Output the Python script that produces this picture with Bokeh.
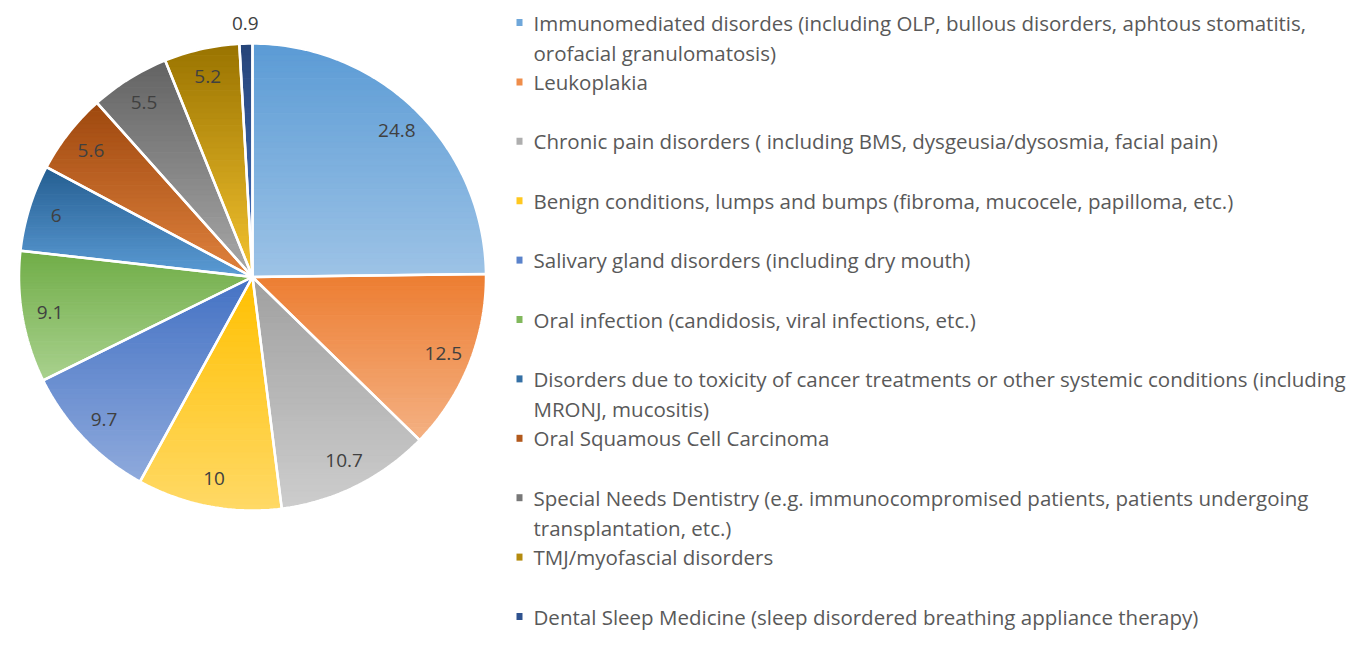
import textwrap
import numpy as np
from bokeh.plotting import figure
from bokeh.models import Range1d
from bokeh.core.properties import value
from bokeh.embed import file_html
from bokeh.resources import INLINE

# ---------------- data ----------------
categories = [
    "Immunomediated disordes (including OLP, bullous disorders, aphtous stomatitis, orofacial granulomatosis)",
    "Leukoplakia",
    "Chronic pain disorders ( including BMS, dysgeusia/dysosmia, facial pain)",
    "Benign conditions, lumps and bumps (fibroma, mucocele, papilloma, etc.)",
    "Salivary gland disorders (including dry mouth)",
    "Oral infection (candidosis, viral infections, etc.)",
    "Disorders due to toxicity of cancer treatments or other systemic conditions (including MRONJ, mucositis)",
    "Oral Squamous Cell Carcinoma",
    "Special Needs Dentistry (e.g. immunocompromised patients, patients undergoing transplantation, etc.)",
    "TMJ/myofascial disorders",
    "Dental Sleep Medicine (sleep disordered breathing appliance therapy)",
]
values = [24.8, 12.5, 10.7, 10, 9.7, 9.1, 6, 5.6, 5.5, 5.2, 0.9]

# ---------------- styles ----------------
top_colors = ["#5B9BD5", "#ED7D31", "#A0A0A0", "#FFC000", "#4472C4", "#70AD47",
              "#255E91", "#9E480E", "#636363", "#997300", "#264478"]
bottom_colors = ["#9DC3E6", "#F4B183", "#CDCDCD", "#FFD966", "#8FAADC", "#A9D18E",
                 "#5B9BD5", "#E0823E", "#A8A8A8", "#F4C330", "#4472C4"]

W, H = 1348, 632
CX, CY, R = 252.0, 276.5, 233.5


def hex2rgb(h):
    return np.array([int(h[i:i + 2], 16) for i in (1, 3, 5)], dtype=float)


def mix(c1, c2, t):
    a, b = hex2rgb(c1), hex2rgb(c2)
    c = np.clip(np.round(a + (b - a) * t), 0, 255).astype(int)
    return "#%02x%02x%02x" % tuple(c)


def clip_half(pts, ylim, keep_greater):
    out = []
    n = len(pts)
    for i in range(n):
        p, q = pts[i], pts[(i + 1) % n]
        pin = p[1] >= ylim if keep_greater else p[1] <= ylim
        qin = q[1] >= ylim if keep_greater else q[1] <= ylim
        if pin:
            out.append(p)
        if pin != qin:
            t = (ylim - p[1]) / (q[1] - p[1])
            out.append((p[0] + t * (q[0] - p[0]), ylim))
    return out


p = figure(width=W, height=H, output_backend="svg", toolbar_location=None,
           x_range=Range1d(0, W), y_range=Range1d(H, 0), min_border=0)
p.axis.visible = False
p.grid.visible = False
p.outline_line_color = None
p.background_fill_color = "white"
p.border_fill_color = "white"

total = float(sum(values))
cum = np.concatenate([[0.0], np.cumsum(values)]) / total * 2 * np.pi

band_xs, band_ys, band_cols = [], [], []
slice_xs, slice_ys = [], []
lab_x, lab_y, lab_t = [], [], []
for i, v in enumerate(values):
    a0, a1 = cum[i], cum[i + 1]
    n = max(4, int(np.degrees(a1 - a0) / 1.0))
    th = np.linspace(a0, a1, n)
    px = [CX] + list(CX + R * np.sin(th))
    py = [CY] + list(CY - R * np.cos(th))
    poly = list(zip(px, py))
    slice_xs.append(px)
    slice_ys.append(py)
    ymin, ymax = min(py), max(py)
    nb = 40
    edges = np.linspace(ymin, ymax, nb + 1)
    for k in range(nb):
        pts = clip_half(poly, edges[k] - 0.3, True)
        if pts:
            pts = clip_half(pts, edges[k + 1] + 0.3, False)
        if len(pts) >= 3:
            band_xs.append([q[0] for q in pts])
            band_ys.append([q[1] for q in pts])
            band_cols.append(mix(top_colors[i], bottom_colors[i], (k + 0.5) / nb))
    am = 0.5 * (a0 + a1)
    share = v / total * 100
    rl = R * (0.88 if share >= 2 else 1.086)
    lab_x.append(CX + rl * np.sin(am))
    lab_y.append(CY - rl * np.cos(am))
    lab_t.append(f"{v:g}")

p.patches(band_xs, band_ys, fill_color=band_cols, line_color=band_cols, line_width=0.6)
p.patches(slice_xs, slice_ys, fill_alpha=0, line_color="white", line_width=2.5)

p.text(lab_x, lab_y, text=lab_t, text_font=value("Open Sans"), text_font_size="19px",
       text_color="#404040", text_align="center", text_baseline="middle")

# ---------------- legend ----------------
LX_MARK, LX_TEXT = 519, 533
Y0, DY, LINE = 22.0, 59.4, 30.5
leg_x, leg_y, leg_t = [], [], []
mk_x, mk_y, mk_c = [], [], []
for i, cat in enumerate(categories):
    y = Y0 + DY * i
    mk_x.append(LX_MARK)
    mk_y.append(y)
    mk_c.append(mix(top_colors[i], bottom_colors[i], 0.3))
    for j, line in enumerate(textwrap.wrap(cat, 86)):
        leg_x.append(LX_TEXT)
        leg_y.append(y + LINE * j)
        leg_t.append(line)

p.rect(mk_x, mk_y, width=6, height=7, fill_color=mk_c, line_color=None)
p.text(leg_x, leg_y, text=leg_t, text_font=value("Open Sans"), text_font_size="20.5px",
       text_color="#595959", text_align="left", text_baseline="middle")

open("out.html", "w").write(file_html(p, INLINE))
